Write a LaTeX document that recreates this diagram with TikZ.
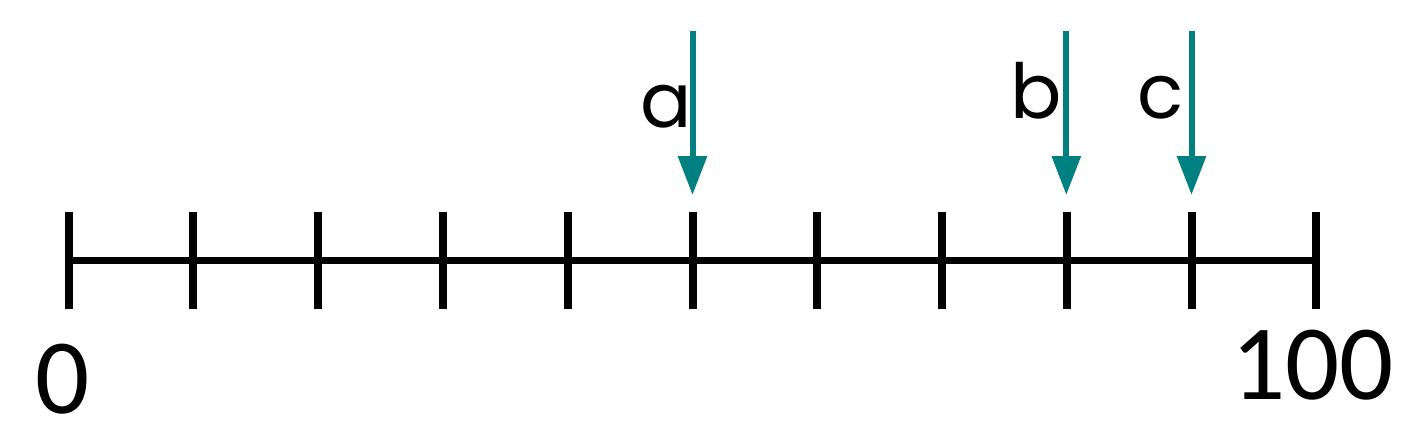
\documentclass[tikz,border=0pt]{standalone}
\usepackage{fontspec}
\setmainfont{Carlito}
\newfontfamily\letterfont{Poppins}
\usetikzlibrary{arrows.meta}
\definecolor{teal1}{RGB}{0,128,128}
\begin{document}
\begin{tikzpicture}[x=1pt,y=-1pt,
  axis/.style={line width=7pt,black},
  tickmark/.style={line width=8pt,black},
  pointer/.style={line width=6pt,teal1,-{Triangle[length=39pt,width=28pt]}},
  numlab/.style={inner sep=0pt,anchor=base,font=\fontsize{107}{107}\selectfont},
  letlab/.style={inner sep=0pt,anchor=base,font=\letterfont\fontsize{76}{76}\selectfont}]
\useasboundingbox (0,0) rectangle (1418,447);
% number line
\coordinate (L) at (65,260.5);
\coordinate (R) at (1320,260.5);
\draw[axis] (L) -- (R);
\foreach \i in {0,...,10} {
  \coordinate (t\i top) at ({68.7+124.77*\i},212);
  \coordinate (t\i bot) at ({68.7+124.77*\i},309);
  \draw[tickmark] (t\i top) -- (t\i bot);
}
% labels
\node[numlab] (zero) at (62.5,413) {0};
\node[numlab] (hundred) at (1312.5,399) {100};
% arrows
\coordinate (sa) at (692.5,31);  \coordinate (ea) at (692.5,195);
\coordinate (sb) at (1066.3,31); \coordinate (eb) at (1066.3,195);
\coordinate (sc) at (1191.5,31); \coordinate (ec) at (1191.5,195);
\draw[pointer] (sa) -- (ea);
\draw[pointer] (sb) -- (eb);
\draw[pointer] (sc) -- (ec);
\node[letlab] (la) at (666,127) {a};
\node[letlab] (lb) at (1036,118) {b};
\node[letlab] (lc) at (1160.5,118) {c};
\end{tikzpicture}
\end{document}
